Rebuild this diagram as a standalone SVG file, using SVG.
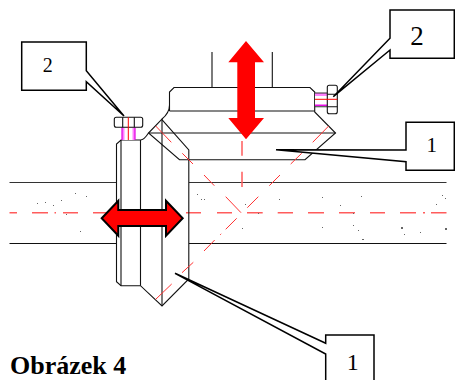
<svg xmlns="http://www.w3.org/2000/svg" width="455" height="380" viewBox="0 0 455 380">
<style>
.l{fill:none;stroke:#111;stroke-width:1.1}
.p{fill:none;stroke:#333;stroke-width:1.1}
.r{fill:none;stroke:#f33;stroke-width:1}
.rh{fill:none;stroke:#ff5c5c;stroke-width:1.5}
.m{fill:none;stroke:#e000e0;stroke-width:1.2}
.f{fill:#ff80ff;stroke:none}
.red{stroke:#f00;stroke-width:1;fill:none}
.call{fill:#fff;stroke:#000;stroke-width:1.5}
.t{font-family:"Liberation Serif","Times New Roman",serif;fill:#000;text-anchor:middle}
.d{fill:#666}
</style>
<rect width="455" height="380" fill="#fff"/>
<g id="pipe">
<path class="p" d="M9.500 182.500H116.500M189 182.500H446.500"/>
<path class="l" d="M9.500 243.500H116.500M189 243.500H446.500"/>
<path class="rh" d="M9.500 212.800H17M32 212.800H48M54.500 212.800H56M63 212.800H78M93 212.800H108M186 212.800H201M217 212.800H232M247 212.800H262.700M277.700 212.800H293M308 212.800H324M339 212.800H355M370 212.800H385M400 212.800H416M423 212.800H425M431 212.800H446.500"/>
<g class="d">
<rect x="37" y="203" width="1" height="1"/><rect x="45" y="202" width="1" height="1"/><rect x="53" y="205" width="1" height="1"/><rect x="61" y="200" width="1" height="1"/><rect x="75" y="193" width="1" height="1"/><rect x="86" y="196" width="1" height="1"/><rect x="66" y="214" width="1" height="1"/><rect x="80" y="231" width="1" height="1"/>
<rect x="197" y="194" width="1" height="1"/><rect x="201" y="199" width="1" height="1"/><rect x="204" y="199" width="1" height="1"/><rect x="245" y="204" width="1" height="1"/><rect x="279" y="199" width="1" height="1"/><rect x="258" y="213" width="1" height="1"/><rect x="242" y="228" width="1" height="1"/>
<rect x="322" y="197" width="1" height="1"/><rect x="361" y="196" width="1" height="1"/><rect x="340" y="205" width="1" height="1"/><rect x="442" y="195" width="1" height="1"/><rect x="445" y="198" width="1" height="1"/><rect x="436" y="204" width="1" height="1"/><rect x="353" y="213" width="1" height="1"/><rect x="322" y="227" width="1" height="1"/><rect x="353" y="225" width="1" height="1"/><rect x="358" y="230" width="1" height="1"/><rect x="401" y="227" width="2" height="2"/><rect x="404" y="234" width="1" height="1"/><rect x="420" y="232" width="1" height="1"/><rect x="445" y="228" width="2" height="2"/><rect x="362" y="239" width="2" height="1"/>
</g>
</g>
<g id="machine">
<path class="l" d="M212 52V87.500M272.300 52V87.500"/>
<path class="l" d="M169.500 111V92L174 87.500H310L314.700 92V112L335.500 133L305 159.700H179.500L148.500 133L161.700 119.300Q169.500 113 169.500 105"/>
<path class="l" d="M169.500 111H314.700M148.500 133H335.500"/>
<path class="l" d="M161.700 119.300L188.800 150V279L162 306L140.500 285.700H121L116.500 281.700V144L121 140H140.500Q144 140 148.500 133"/>
<path class="l" d="M121 140V285.700M140.500 140V285.700M162 119.300V306"/>
</g>
<g id="centerlines">
<path class="r" d="M155.700 126L171.300 142.300M182.300 153.300L193 164M204 175L214.300 185.700M225.700 196.700L241 212.700M328.700 126L312.700 142.300M301.700 153.300L290.700 164M280 175L269.300 185.700M258.300 196.700L247.300 207.700M236.700 218.300L225.700 229.300M220.200 234.800L221.200 233.800M214.700 240L204 251M193.300 262.300L182 272.700M171.700 284L155.700 299.300"/>
<path class="rh" d="M242 141V155.700M242 171.700V187"/>
</g>
<g id="bolt-left">
<rect class="f" x="122" y="127.500" width="13" height="12.500"/>
<rect x="124.500" y="127.500" width="8" height="12.500" fill="#fff"/>
<path class="m" d="M122 127.500V140M135 127.500V140"/>
<rect class="l" x="114.300" y="117.300" width="28.400" height="10" rx="2"/>
<path class="l" d="M122.700 117.300V127.300M134.300 117.300V127.300"/>
<path class="red" d="M128.300 117.300V140"/>
</g>
<g id="bolt-right">
<rect class="f" x="315" y="93" width="12.300" height="13"/>
<rect x="315" y="96" width="12.300" height="8.500" fill="#fff"/>
<path class="m" d="M315 105.300H327.300"/>
<path class="p" d="M315 93H327.300M315 106.700H327.300"/>
<rect class="l" x="327.300" y="85.300" width="10" height="28.400" rx="2"/>
<path class="l" d="M327.300 94.300H337.300M327.300 106.700H337.300"/>
<path class="red" d="M315 99.300H337.300"/>
</g>
<g id="arrow-vertical">
<polygon fill="#f00" points="246,41 264,62.300 255,62.300 255,118 264,118 246,139.300 228.300,118 237.300,118 237.300,62.300 228.300,62.300"/>
</g>
<g id="arrow-horizontal">
<polygon fill="#f00" stroke="#000" stroke-width="2" points="101.700,218.300 118.300,200.700 118.300,210 166,210 166,200.700 182.700,218.300 166,235.700 166,226 118.300,226 118.300,235.700"/>
</g>
<g id="callout-2-left">
<path class="call" d="M21.700 42H86.300V70.700L124 116L86.300 81.700V90.300H21.700Z"/>
<text class="t" x="47.700" y="71.700" font-size="20">2</text>
</g>
<g id="callout-2-right">
<path class="call" d="M390 10H454.300V58.300H390V50L333.300 96.700L390 38.300Z"/>
<text class="t" x="417" y="45" font-size="27">2</text>
</g>
<g id="callout-1-right">
<path class="call" d="M406 122.300H454.300V170.300H406V161.700L276 149.700L406 150Z"/>
<text class="t" x="431.700" y="151.700" font-size="21">1</text>
</g>
<g id="callout-1-bottom">
<path class="call" d="M325.700 335H374V383H325.700V354L175 273.300L325.700 343.300Z"/>
<text class="t" x="352.700" y="370" font-size="24">1</text>
</g>
<text id="title" x="10" y="374" font-family="'Liberation Serif','Times New Roman',serif" font-weight="bold" font-size="26">Obrázek 4</text>
</svg>
